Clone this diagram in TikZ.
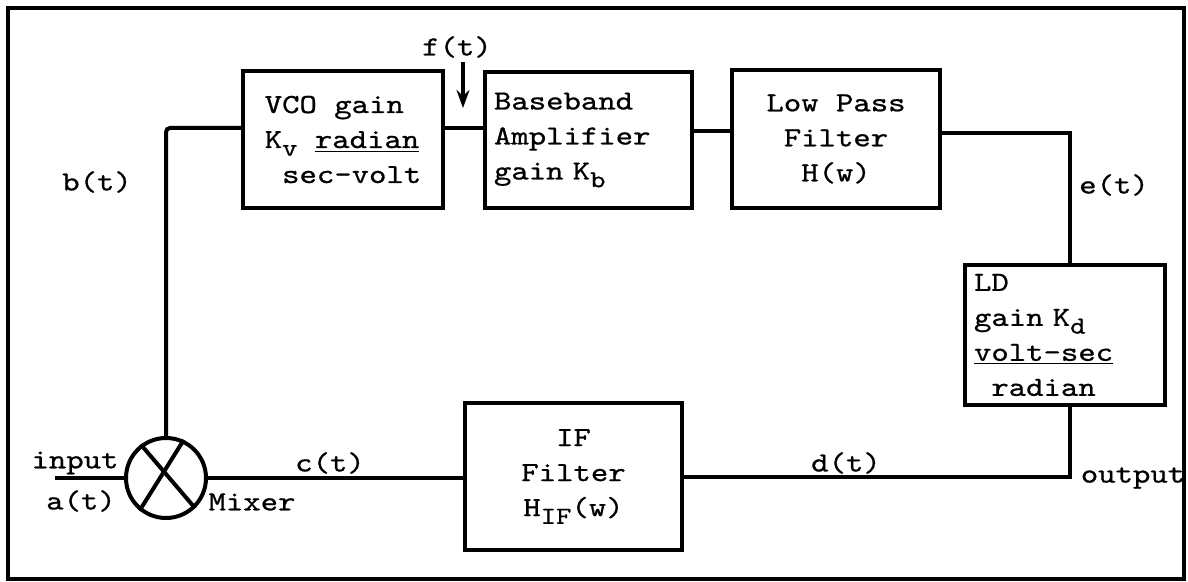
\documentclass[tikz,border=0pt]{standalone}
\usepackage{fontspec}
\newfontfamily\tw{lmmono10-regular.otf}[FakeStretch=1.2,FakeBold=0.8]
\usetikzlibrary{arrows.meta,calc}
\newcommand{\lowsub}[1]{\raisebox{-0.65ex}{\fontsize{12.2}{12.2}\selectfont #1}}
\begin{document}
\begin{tikzpicture}[x=0.5pt,y=-0.5pt,
  every node/.style={font=\tw\fontsize{13.8}{17.5}\selectfont, inner sep=0pt},
  blk/.style={draw, line width=2pt, rectangle, align=center},
  wire/.style={line width=2pt},
  frame/.style={line width=2.2pt}]
\useasboundingbox (0,0) rectangle (1188,582);
\draw[frame] (8,8) rectangle (1184,579);

% blocks
\node[blk, minimum width=100pt, minimum height=68.5pt, align=left] (vco) at (343,139.5)
  {VCO gain\\K\lowsub{v} \underline{radian}\\\phantom{s}sec-volt};
\node[blk, minimum height=68pt, text width=94.5pt, inner xsep=4.5pt, align=left] (bb) at (588.5,140)
  {Baseband\\Amplifier\\gain K\lowsub{b}};
\node[blk, minimum width=104pt, minimum height=69pt] (lpf) at (836,139)
  {Low Pass\\Filter\\H(w)};
\node[blk, minimum height=70pt, text width=91pt, inner xsep=4.5pt, align=left] (ld) at (1065,335)
  {LD\\gain K\lowsub{d}\\\underline{volt-sec}\\\phantom{r}radian};
\node[blk, minimum width=108.5pt, minimum height=73.5pt] (iff) at (573.5,476.5)
  {IF\\Filter\\H\lowsub{IF}(w)};
\node[draw, circle, line width=2pt, minimum size=40pt] (mix) at (166,478) {};
\draw[wire] (mix.127) -- (mix.-46);
\draw[wire] (mix.65) -- (mix.-129);

% labels
\node (ft) at (457,47) {f(t)};
\node (bt) at (97,182) {b(t)};
\node (et) at (1114,185) {e(t)};
\node (ct) at (330,463) {c(t)};
\node (dt) at (846,463) {d(t)};
\node (inp) at (75,463) {input};
\node (at) at (81,501) {a(t)};
\node (mx) at (252,502) {Mixer};
\node (outp) at (1133,478) {output};

% connectors
\coordinate (inl) at (55,478);
\draw[wire] (inl) -- (mix.west);
\draw[wire, rounded corners=2pt] ([yshift=5.75pt]vco.west) -| (mix.north);
\coordinate (vr) at ([yshift=5.75pt]vco.east);
\draw[wire] (vr) -- (vr -| bb.west);
\coordinate (br) at ([yshift=4.5pt]bb.east);
\draw[wire] (br) -- (br -| lpf.west);
\coordinate (lr) at ([yshift=3pt]lpf.east);
\coordinate (ldt) at ([xshift=2.5pt]ld.north);
\draw[wire] (lr) -| (ldt);
\coordinate (ldb) at ([xshift=2.5pt]ld.south);
\draw[wire] (ldb) |- (iff.east);
\draw[wire] (mix.east) -- (mix.east -| iff.west);
\coordinate (fa) at (463,108);
\draw[line width=1.8pt, -{Stealth[length=9pt,width=6.5pt]}] ([xshift=3pt,yshift=-2pt]ft.south) -- (fa);
\end{tikzpicture}
\end{document}
